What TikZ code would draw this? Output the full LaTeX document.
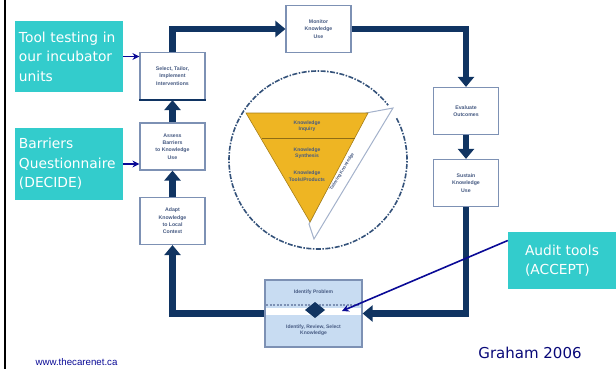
\documentclass[tikz,border=0pt]{standalone}
\usepackage{fontspec}
\setmainfont{DejaVu Sans}
\newfontfamily\arialfont{Liberation Sans}
\usetikzlibrary{arrows.meta, shapes.geometric, positioning}

\definecolor{tealbox}{RGB}{51,204,204}
\definecolor{navy}{RGB}{16,52,98}
\definecolor{boxline}{RGB}{125,145,180}
\definecolor{stagetext}{RGB}{70,90,130}
\definecolor{pointblue}{RGB}{10,10,150}
\definecolor{funnel}{RGB}{238,181,35}
\definecolor{idfill}{RGB}{200,220,242}

\tikzset{
  note/.style={fill=tealbox, text=white, inner sep=0pt, align=left,
    font=\fontsize{13.8}{19.5}\selectfont},
  stage/.style={draw=boxline, line width=1.2pt, fill=white, minimum width=65pt,
    minimum height=47pt, inner sep=1pt, align=center, text=stagetext,
    font=\arialfont\bfseries\fontsize{5.2}{7.3}\selectfont},
  tiny/.style={align=center, text=stagetext, inner sep=0pt,
    font=\arialfont\bfseries\fontsize{5}{6.5}\selectfont},
  cycle/.style={draw=navy, line width=6.5pt, -{Triangle[width=16pt,length=10pt]}},
  pointer/.style={draw=pointblue, line width=1.8pt, -{Stealth[length=7pt,width=7pt]}},
  ring/.style={draw=navy!85, line width=1.6pt, dash pattern=on 5pt off 1.5pt on 1.5pt off 1.5pt},
}

\begin{document}
\begin{tikzpicture}[x=1pt, y=-1pt]
    \useasboundingbox (0,0) rectangle (616,369);
    \draw[line width=2pt] (5,0) -- (5,369);

    % circle and funnel
    \draw[ring] (318,160) ++(-28:89) arc[start angle=-28, end angle=322, radius=89];
    \draw[draw=boxline!70, line width=1pt, fill=white] (366,113) -- (393,108) -- (314,239) -- (309,224) -- cycle;
    \fill[funnel, draw=funnel!70!black, line width=0.6pt] (246,113) -- (368,113) -- (310,222) -- cycle;
    \draw[funnel!60!black, line width=0.4pt] (262,138) -- (355,138);
    \node[tiny] (inquiry) at (307,126) {Knowledge\\ Inquiry};
    \node[tiny] (synthesis) at (307,153) {Knowledge\\ Synthesis};
    \node[tiny] (products) at (307,176) {Knowledge\\ Tools/Products};
    \node[tiny, rotate=59, font=\arialfont\bfseries\fontsize{4.4}{5}\selectfont] (tailor) at (342,172) {Tailoring Knowledge};

    % stages of the cycle
    \node[stage] (monitor) at (318.5,29) {Monitor\\ Knowledge\\ Use};
    \node[stage] (select) at (172.5,76) {Select, Tailor,\\ Implement\\ Interventions};
    \node[stage] (assess) at (172.5,146.5) {Assess\\ Barriers\\ to Knowledge\\ Use};
    \node[stage] (adapt) at (172.5,221) {Adapt\\ Knowledge\\ to Local\\ Context};
    \node[stage] (evaluate) at (466,111) {Evaluate\\ Outcomes};
    \node[stage] (sustain) at (466,183) {Sustain\\ Knowledge\\ Use};
    \node[stage, fill=idfill, minimum width=97pt, minimum height=67pt] (identify) at (313.5,313.5) {};
    \draw[navy, line width=2.5pt] (select.south west) -- (select.south east);

    % inside the bottom box
    \fill[white] (266,308) rectangle (361,315);
    \draw[boxline, line width=1.2pt, dash pattern=on 2pt off 1.5pt] (266,305) -- (361,305);
    \fill[navy] (305,310) -- (315,302) -- (325,310) -- (315,318) -- cycle;
    \node[tiny] (problem) at (313.5,292) {Identify Problem};
    \node[tiny] (review) at (313.5,330) {Identify, Review, Select\\ Knowledge};

    % cycle arrows
    \draw[cycle] (select.north) |- (monitor.west);
    \draw[cycle] (monitor.east) -| (evaluate.north);
    \draw[cycle] (evaluate.south) -- (sustain.north);
    \draw[cycle] (sustain.south) |- (identify.east);
    \draw[cycle] (identify.west) -| (adapt.south);
    \draw[cycle] (adapt.north) -- (assess.south);
    \draw[cycle] (assess.north) -- (select.south);

    % notes
    \node[note, minimum width=108pt, minimum height=71pt, text width=100pt] (tool) at (69,56.5) {Tool testing in\\ our incubator\\ units};
    \node[note, minimum width=108pt, minimum height=72pt, text width=100pt] (barriers) at (69,164) {Barriers\\ Questionnaire\\ (DECIDE)};
    \node[note, minimum width=108pt, minimum height=57pt] (audit) at (562,260.5) {Audit tools\\ (ACCEPT)};
    \coordinate (auditend) at (342,311);

    \draw[pointer] (tool.east) -- (tool.east -| select.west);
    \draw[pointer] (barriers.east) -- (barriers.east -| assess.west);
    \draw[pointer, line width=1.6pt] ([yshift=20pt]audit.west) -- (auditend);

    \node[text=pointblue, font=\arialfont\fontsize{9.7}{11}\selectfont] (site) at (76.5,362) {www.thecarenet.ca};
    \node[text=pointblue!80!black, font=\fontsize{15}{18}\selectfont] (graham) at (530,353) {Graham 2006};
\end{tikzpicture}
\end{document}
